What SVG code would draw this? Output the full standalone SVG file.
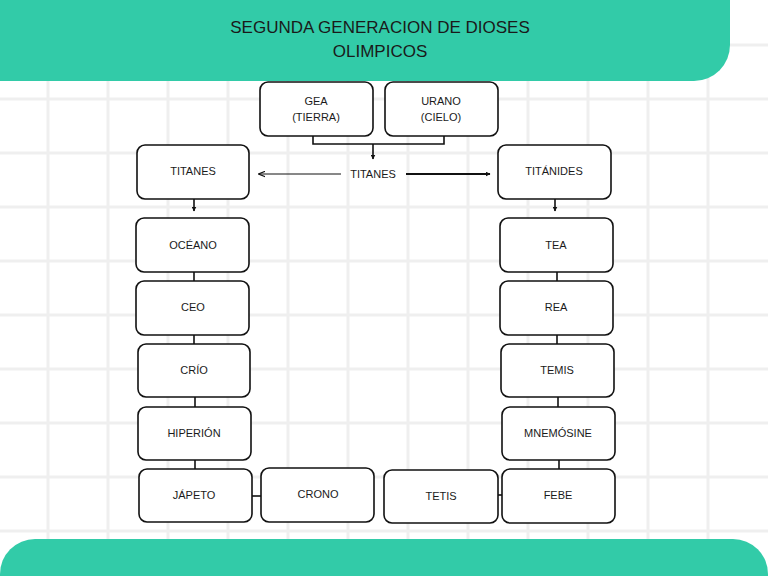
<svg xmlns="http://www.w3.org/2000/svg" width="768" height="576" viewBox="0 0 768 576">
<style>
.grid line{stroke:#efefef;stroke-width:3}
.node rect{fill:#fff;stroke:#111;stroke-width:1.6}
text{font-family:"Liberation Sans",Arial,sans-serif;fill:#1a1a1a}
.lbl{font-size:11px;text-anchor:middle}
.conn line,.conn path{stroke:#111;stroke-width:1.6;fill:none}
.title{font-size:17px;text-anchor:middle}
</style>
<defs>
<marker id="ah" viewBox="0 0 10 10" refX="9" refY="5" markerWidth="5" markerHeight="5" orient="auto" markerUnits="userSpaceOnUse">
<path d="M0,0 L10,5 L0,10 z" fill="#111"/>
</marker>
<marker id="ah2" viewBox="0 0 10 10" refX="9" refY="5" markerWidth="7" markerHeight="7" orient="auto" markerUnits="userSpaceOnUse">
<path d="M0,1 L10,5 L0,9" fill="none" stroke="#111" stroke-width="1.5"/>
</marker>
</defs>
<rect width="768" height="576" fill="#fff"/>
<g class="grid">
<line x1="48" y1="0" x2="48" y2="576"/><line x1="108" y1="0" x2="108" y2="576"/><line x1="168" y1="0" x2="168" y2="576"/><line x1="228" y1="0" x2="228" y2="576"/><line x1="288" y1="0" x2="288" y2="576"/><line x1="348" y1="0" x2="348" y2="576"/><line x1="408" y1="0" x2="408" y2="576"/><line x1="468" y1="0" x2="468" y2="576"/><line x1="528" y1="0" x2="528" y2="576"/><line x1="588" y1="0" x2="588" y2="576"/><line x1="648" y1="0" x2="648" y2="576"/><line x1="708" y1="0" x2="708" y2="576"/>
<line x1="0" y1="45" x2="768" y2="45"/><line x1="0" y1="99" x2="768" y2="99"/><line x1="0" y1="153" x2="768" y2="153"/><line x1="0" y1="207" x2="768" y2="207"/><line x1="0" y1="261" x2="768" y2="261"/><line x1="0" y1="315" x2="768" y2="315"/><line x1="0" y1="369" x2="768" y2="369"/><line x1="0" y1="423" x2="768" y2="423"/><line x1="0" y1="477" x2="768" y2="477"/><line x1="0" y1="531" x2="768" y2="531"/>
</g>
<g id="header">
<path d="M0,0 H730 V45 A36,36 0 0 1 694,81 H0 Z" fill="#32cba8"/>
<text class="title" x="380" y="33">SEGUNDA GENERACION DE DIOSES</text>
<text class="title" x="380" y="57">OLIMPICOS</text>
</g>
<g id="footer">
<path d="M0,576 V574 A35,35 0 0 1 35,539 H733 A35,35 0 0 1 768,574 V576 Z" fill="#32cba8"/>
</g>
<g class="conn" id="connectors">
<path d="M313,136 V144 H444 V136"/>
<line x1="373" y1="144" x2="373" y2="159" marker-end="url(#ah)"/>
<line x1="341" y1="174" x2="259" y2="174" stroke-width="1" marker-end="url(#ah2)" style="stroke-width:1"/>
<line x1="406" y1="174" x2="490" y2="174" style="stroke-width:2" marker-end="url(#ah)"/>
<line x1="194" y1="199" x2="194" y2="211" marker-end="url(#ah)"/>
<line x1="555" y1="199" x2="555" y2="211" marker-end="url(#ah)"/>
<line x1="194" y1="272" x2="194" y2="281"/>
<line x1="194" y1="335" x2="194" y2="344"/>
<line x1="195" y1="397" x2="195" y2="407"/>
<line x1="195" y1="460" x2="195" y2="469"/>
<line x1="557" y1="272" x2="557" y2="281"/>
<line x1="557" y1="335" x2="557" y2="344"/>
<line x1="558" y1="397" x2="558" y2="407"/>
<line x1="559" y1="460" x2="559" y2="469"/>
<line x1="252" y1="496" x2="261" y2="496"/>
<line x1="498" y1="495" x2="502" y2="495"/>
</g>
<text class="lbl" x="373" y="178">TITANES</text>
<g class="node" id="gea"><rect x="260" y="82" width="113" height="54" rx="8"/><text class="lbl" x="316" y="105">GEA</text><text class="lbl" x="316" y="121">(TIERRA)</text></g>
<g class="node" id="urano"><rect x="385" y="82" width="113" height="54" rx="8"/><text class="lbl" x="441" y="105">URANO</text><text class="lbl" x="441" y="121">(CIELO)</text></g>
<g class="node" id="titanes"><rect x="137" y="145" width="112" height="54" rx="8"/><text class="lbl" x="193" y="175">TITANES</text></g>
<g class="node" id="titanides"><rect x="498" y="145" width="113" height="54" rx="8"/><text class="lbl" x="554" y="175">TITÁNIDES</text></g>
<g class="node" id="oceano"><rect x="136" y="218" width="113" height="54" rx="8"/><text class="lbl" x="193" y="249">OCÉANO</text></g>
<g class="node" id="ceo"><rect x="136" y="281" width="113" height="54" rx="8"/><text class="lbl" x="193" y="311">CEO</text></g>
<g class="node" id="crio"><rect x="138" y="344" width="112" height="53" rx="8"/><text class="lbl" x="194" y="374">CRÍO</text></g>
<g class="node" id="hiperion"><rect x="138" y="407" width="113" height="53" rx="8"/><text class="lbl" x="194" y="437">HIPERIÓN</text></g>
<g class="node" id="japeto"><rect x="139" y="469" width="113" height="53" rx="8"/><text class="lbl" x="194" y="499">JÁPETO</text></g>
<g class="node" id="crono"><rect x="261" y="468" width="113" height="54" rx="8"/><text class="lbl" x="318" y="498">CRONO</text></g>
<g class="node" id="tetis"><rect x="384" y="470" width="114" height="53" rx="8"/><text class="lbl" x="441" y="500">TETIS</text></g>
<g class="node" id="tea"><rect x="500" y="218" width="113" height="54" rx="8"/><text class="lbl" x="556" y="249">TEA</text></g>
<g class="node" id="rea"><rect x="500" y="281" width="113" height="54" rx="8"/><text class="lbl" x="556" y="311">REA</text></g>
<g class="node" id="temis"><rect x="501" y="344" width="113" height="53" rx="8"/><text class="lbl" x="557" y="374">TEMIS</text></g>
<g class="node" id="mnemosine"><rect x="502" y="407" width="113" height="53" rx="8"/><text class="lbl" x="558" y="437">MNEMÓSINE</text></g>
<g class="node" id="febe"><rect x="502" y="469" width="113" height="54" rx="8"/><text class="lbl" x="558" y="499">FEBE</text></g>
</svg>
